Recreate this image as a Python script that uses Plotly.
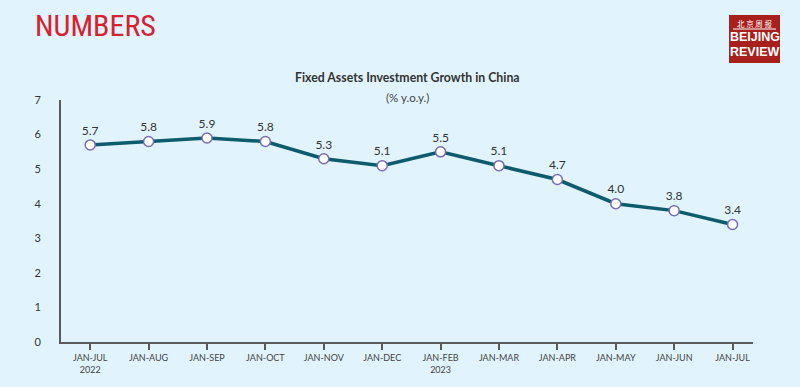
import plotly.graph_objects as go

categories = ["JAN-JUL<br>2022", "JAN-AUG", "JAN-SEP", "JAN-OCT", "JAN-NOV", "JAN-DEC",
              "JAN-FEB<br>2023", "JAN-MAR", "JAN-APR", "JAN-MAY", "JAN-JUN", "JAN-JUL"]
values = [5.7, 5.8, 5.9, 5.8, 5.3, 5.1, 5.5, 5.1, 4.7, 4.0, 3.8, 3.4]
y_ticks = [0, 1, 2, 3, 4, 5, 6, 7]

bg = "#e1f3fc"
fig = go.Figure()
fig.add_trace(go.Scatter(
    x=list(range(len(categories))), y=values, mode="lines+markers+text",
    text=[f"{v:.1f}" for v in values], textposition="top center",
    textfont=dict(family="Lato, Open Sans, sans-serif", size=12, color="#333"),
    line=dict(color="#0c5c6e", width=3.5),
    marker=dict(size=10, color="white", line=dict(color="#7a6cb2", width=1.5)),
    cliponaxis=False, showlegend=False, hoverinfo="skip",
))

fig.update_layout(
    width=800, height=387, paper_bgcolor=bg, plot_bgcolor=bg,
    margin=dict(l=61, r=47, t=100, b=45, autoexpand=False),
    xaxis=dict(range=[-0.5, 11.35], tickmode="array", tickvals=list(range(len(categories))),
               ticktext=categories, showgrid=False, zeroline=False,
               showline=True, linecolor="#5a5a5a", linewidth=2,
               ticks="outside", ticklen=6, tickwidth=1.5, tickcolor="#5a5a5a",
               tickfont=dict(family="Lato, Open Sans, sans-serif", size=9, color="#444")),
    yaxis=dict(range=[0, 7], tickvals=y_ticks, showgrid=False, zeroline=False,
               showline=True, linecolor="#5a5a5a", linewidth=2,
               ticks="outside", ticklen=16, tickcolor="rgba(0,0,0,0)",
               tickfont=dict(family="Lato, Open Sans, sans-serif", size=11, color="#333")),
    font=dict(family="Lato, Open Sans, sans-serif"),
)

fig.add_annotation(xref="paper", yref="paper", x=0.5, y=1, xanchor="center", yanchor="middle",
                   yshift=23, showarrow=False,
                   text="<b>Fixed Assets Investment Growth in China</b>",
                   font=dict(size=12.3, color="#333"))
fig.add_annotation(xref="paper", yref="paper", x=0.5, y=1, xanchor="center", yanchor="middle",
                   yshift=3, showarrow=False, text="(% y.o.y.)",
                   font=dict(size=11.5, color="#444"))

# Header
fig.add_annotation(xref="paper", yref="paper", x=-61/692, y=(342-26)/242, xanchor="left", yanchor="middle",
                   xshift=33, showarrow=False, text="NUMBERS",
                   font=dict(family="Liberation Sans Narrow, Roboto Condensed, sans-serif",
                             size=30, color="#d62230"))

# Logo
cx = (754.5-61)/692
fig.add_shape(type="rect", xref="paper", yref="paper",
              x0=(729-61)/692, x1=(780-61)/692, y0=(342-63)/242, y1=(342-15)/242,
              fillcolor="#a8201d", line=dict(width=0))
fig.add_shape(type="line", xref="paper", yref="paper",
              x0=(733-61)/692, x1=(776-61)/692, y0=(342-29)/242, y1=(342-29)/242,
              line=dict(color="white", width=1))
fig.add_annotation(xref="paper", yref="paper", x=cx, y=(342-23)/242,
                   xanchor="center", yanchor="middle",
                   showarrow=False, text="北 京 周 报",
                   font=dict(family="Noto Sans CJK SC", size=7.5, color="white"))
fig.add_annotation(xref="paper", yref="paper", x=cx, y=(342-37)/242,
                   xanchor="center", yanchor="middle",
                   showarrow=False, text="<b>BEIJING</b>",
                   font=dict(family="Liberation Sans Narrow, sans-serif", size=12.5, color="white"))
fig.add_annotation(xref="paper", yref="paper", x=cx, y=(342-52)/242,
                   xanchor="center", yanchor="middle",
                   showarrow=False, text="<b>REVIEW</b>",
                   font=dict(family="Liberation Sans Narrow, sans-serif", size=12.5, color="white"))

fig.write_html("out.html", config={"displayModeBar": False},
               post_script="document.body.style.margin='0';")
